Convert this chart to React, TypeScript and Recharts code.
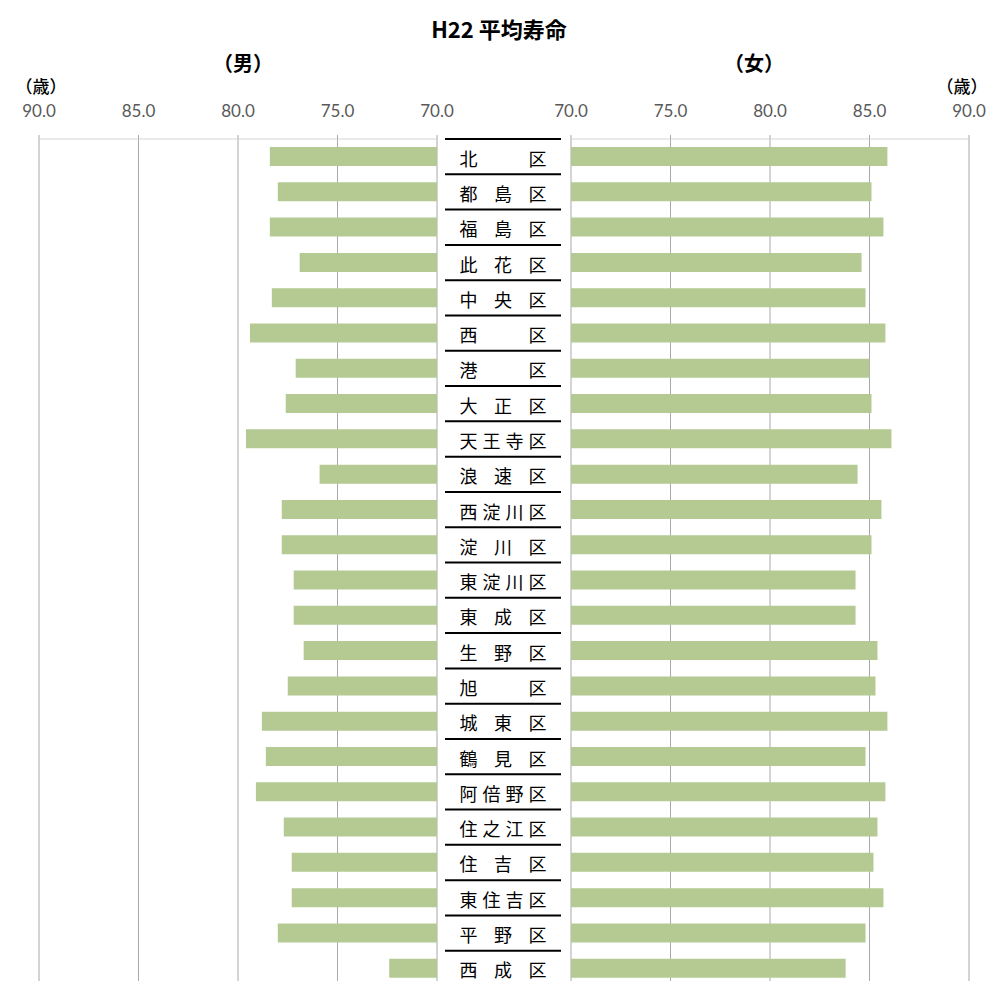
import React from 'react';
import { BarChart, Bar, XAxis, YAxis, CartesianGrid } from 'recharts';

const districts = [
  '北区', '都島区', '福島区', '此花区', '中央区', '西区', '港区', '大正区',
  '天王寺区', '浪速区', '西淀川区', '淀川区', '東淀川区', '東成区', '生野区', '旭区',
  '城東区', '鶴見区', '阿倍野区', '住之江区', '住吉区', '東住吉区', '平野区', '西成区',
];

const maleAge = [
  78.4, 78.0, 78.4, 76.9, 78.3, 79.4, 77.1, 77.6,
  79.6, 75.9, 77.8, 77.8, 77.2, 77.2, 76.7, 77.5,
  78.8, 78.6, 79.1, 77.7, 77.3, 77.3, 78.0, 72.4,
];

const femaleAge = [
  85.9, 85.1, 85.7, 84.6, 84.8, 85.8, 85.0, 85.1,
  86.1, 84.4, 85.6, 85.1, 84.3, 84.3, 85.4, 85.3,
  85.9, 84.8, 85.8, 85.4, 85.2, 85.7, 84.8, 83.8,
];

const ageTicks = [70, 75, 80, 85, 90];

const data = districts.map((name, i) => ({ name, male: maleAge[i], female: femaleAge[i] }));

const JP = '"Noto Sans CJK JP", "Noto Sans", sans-serif';
const NUM = 'Lato, "Open Sans", sans-serif';
const BAR = '#b5ca92';
const GRID = '#a8a8ae';
const AXIS = '#d4d4d4';

const CHART_H = 1000;
const AXIS_H = 30;
const TOP = 139 - AXIS_H;
const BOTTOM = 14;
const bandH = (CHART_H - TOP - AXIS_H - BOTTOM) / districts.length;

const tickStyle = { fill: '#595959', fontSize: 17, fontFamily: NUM };

// district label column, drawn as the y-axis ticks of the right chart
const DistrictTick = (props: any) => {
  const { x, y, payload, index } = props;
  const chars = Array.from(String(payload.value)) as string[];
  const left = x - 102.5;
  const right = x - 33.5;
  const step = chars.length > 1 ? (right - left) / (chars.length - 1) : 0;
  const top = y - bandH / 2;
  return (
    <g>
      <line x1={x - 126} x2={x - 10} y1={top} y2={top} stroke="#000" strokeWidth={2} />
      {index === districts.length - 1 && (
        <line x1={x - 126} x2={x - 10} y1={top + bandH} y2={top + bandH} stroke="#000" strokeWidth={2} />
      )}
      {chars.map((c, i) => (
        <text
          key={i}
          x={left + step * i}
          y={y + 1}
          textAnchor="middle"
          dominantBaseline="central"
          fontSize={18}
          fontFamily={JP}
          fill="#000"
        >
          {c}
        </text>
      ))}
    </g>
  );
};

export default function App() {
  const label = (text: string, cx: number, cy: number, size: number, bold = true) => (
    <div
      style={{
        position: 'absolute',
        left: cx - 100,
        top: cy - size / 2 - 4,
        width: 200,
        textAlign: 'center',
        fontFamily: JP,
        fontSize: size,
        fontWeight: bold ? 700 : 500,
        lineHeight: `${size + 8}px`,
        color: '#000',
        whiteSpace: 'nowrap',
      }}
    >
      {text}
    </div>
  );

  return (
    <div style={{ position: 'fixed', left: 0, top: 0, width: 989, height: 981, overflow: 'hidden', background: '#fff' }}>
      {label('H22 平均寿命', 499, 28, 22)}
      {label('（男）', 243, 63, 20)}
      {label('（女）', 754, 63, 20)}
      {label('（歳）', 41, 85, 17, false)}
      {label('（歳）', 962, 85, 17, false)}

      <div style={{ position: 'absolute', left: 0, top: 0 }}>
        <BarChart
          width={475}
          height={CHART_H}
          data={data}
          layout="vertical"
          margin={{ top: TOP, right: 38, bottom: BOTTOM, left: 39 }}
          barSize={19}
        >
          <CartesianGrid horizontal={false} stroke={GRID} />
          <XAxis
            type="number"
            orientation="top"
            height={AXIS_H}
            domain={[70, 90]}
            ticks={ageTicks}
            interval={0}
            reversed
            tickFormatter={(v: number) => v.toFixed(1)}
            tick={tickStyle}
            tickSize={4}
            tickMargin={18}
            tickLine={{ stroke: GRID }}
            axisLine={{ stroke: AXIS }}
          />
          <YAxis type="category" dataKey="name" hide />
          <Bar dataKey="male" fill={BAR} isAnimationActive={false} />
        </BarChart>
      </div>

      <div style={{ position: 'absolute', left: 437, top: 0 }}>
        <BarChart
          width={552}
          height={CHART_H}
          data={data}
          layout="vertical"
          margin={{ top: TOP, right: 20, bottom: BOTTOM, left: 0 }}
          barSize={19}
        >
          <CartesianGrid horizontal={false} stroke={GRID} />
          <XAxis
            type="number"
            orientation="top"
            height={AXIS_H}
            domain={[70, 90]}
            ticks={ageTicks}
            interval={0}
            tickFormatter={(v: number) => v.toFixed(1)}
            tick={tickStyle}
            tickSize={4}
            tickMargin={18}
            tickLine={{ stroke: GRID }}
            axisLine={{ stroke: AXIS }}
          />
          <YAxis
            type="category"
            dataKey="name"
            width={134}
            axisLine={false}
            tickLine={false}
            tickSize={0}
            tickMargin={0}
            interval={0}
            tick={<DistrictTick />}
          />
          <Bar dataKey="female" fill={BAR} isAnimationActive={false} />
        </BarChart>
      </div>
    </div>
  );
}
